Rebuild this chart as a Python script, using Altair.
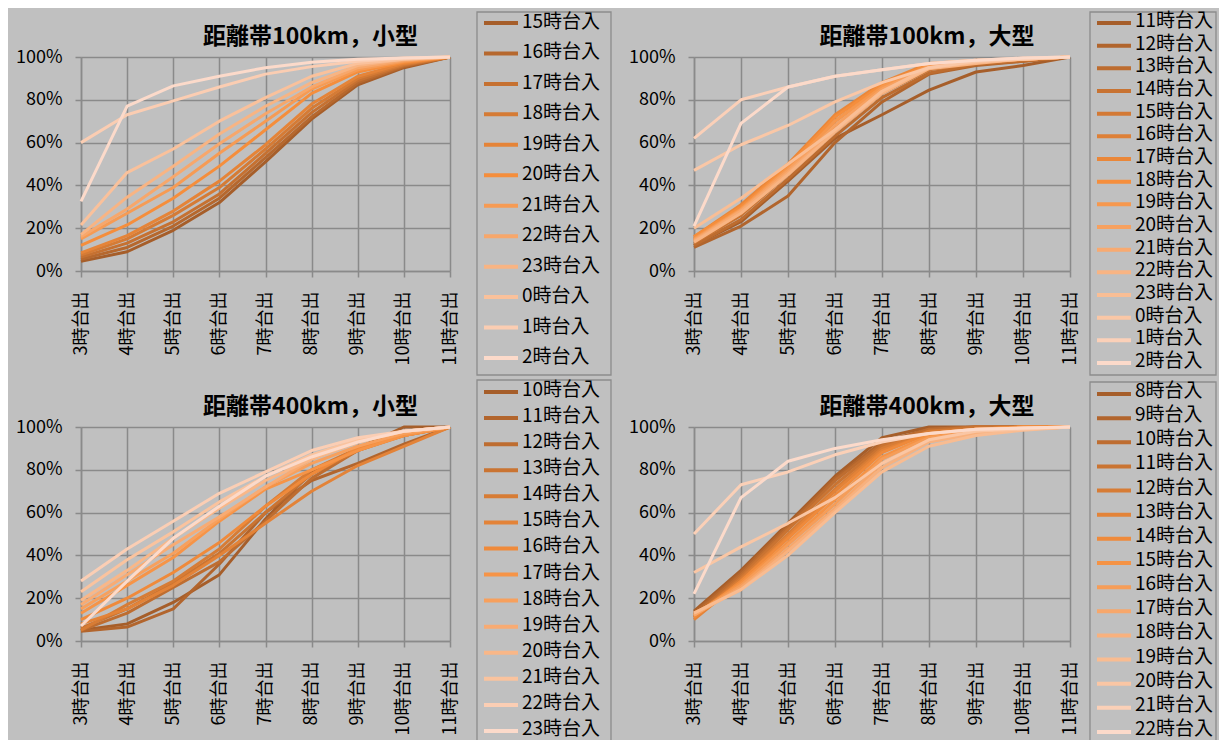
import altair as alt
import pandas as pd

# ---------------- data ----------------
deps = ["3時台出", "4時台出", "5時台出", "6時台出", "7時台出",
        "8時台出", "9時台出", "10時台出", "11時台出"]

titles = ["距離帯100km，小型", "距離帯100km，大型",
          "距離帯400km，小型", "距離帯400km，大型"]

a_series = ["15時台入", "16時台入", "17時台入", "18時台入", "19時台入", "20時台入",
            "21時台入", "22時台入", "23時台入", "0時台入", "1時台入", "2時台入"]
a_values = [
    [4.5, 9, 19, 32, 51, 71, 87, 95, 100],
    [5.5, 11, 21, 34, 53, 72, 88, 95.5, 100],
    [6.5, 13, 23, 36, 55, 74, 89, 96, 100],
    [7.5, 15, 26, 39, 57, 76, 90, 96.5, 100],
    [8.5, 16.5, 28, 42, 59, 78, 91, 97, 100],
    [12, 21.5, 34, 49, 66, 83, 93, 97.5, 100],
    [15, 27, 39, 55, 70, 85, 94, 98, 100],
    [16, 29, 44, 59.5, 73.5, 86, 95, 98.5, 100],
    [17, 34.5, 49, 64, 77, 88, 96, 99, 100],
    [21.5, 46, 57, 70, 81, 91, 97, 99, 100],
    [60, 73, 79.5, 86, 92, 95.5, 98, 99.5, 100],
    [32.5, 77, 86.5, 91, 95, 97.5, 99, 99.5, 100],
]

b_series = ["11時台入", "12時台入", "13時台入", "14時台入", "15時台入", "16時台入",
            "17時台入", "18時台入", "19時台入", "20時台入", "21時台入", "22時台入",
            "23時台入", "0時台入", "1時台入", "2時台入"]
b_values = [
    [12, 23, 42, 62, 73, 84.5, 93, 96, 100],
    [11, 21, 35, 60, 79, 92, 96, 98, 100],
    [12, 24, 43, 63, 81, 92.5, 96.5, 98, 100],
    [13, 26, 45, 65, 83, 94, 97, 98.5, 100],
    [14, 27, 46, 67, 84, 95, 97.5, 99, 100],
    [15, 29, 48, 70, 86, 96, 98, 99, 100],
    [16, 31, 50, 73, 88, 97, 98.5, 99, 100],
    [16, 30, 49, 72, 87, 96.5, 98, 99, 100],
    [15, 29, 48, 70, 86, 96, 98, 99, 100],
    [14.5, 28.5, 47, 68, 85, 95.5, 97.5, 99, 100],
    [14, 28, 46, 66, 84, 95, 97.5, 99, 100],
    [13.5, 27, 45, 65, 83, 94.5, 97, 99, 100],
    [20, 34, 50, 66, 84, 95, 97.5, 99, 100],
    [47, 59, 68, 79, 88, 95, 98, 99, 100],
    [62, 80, 86, 91, 94, 97, 98.5, 99.5, 100],
    [21, 69, 86, 91, 94, 97, 98.5, 99.5, 100],
]

c_series = ["10時台入", "11時台入", "12時台入", "13時台入", "14時台入", "15時台入",
            "16時台入", "17時台入", "18時台入", "19時台入", "20時台入", "21時台入",
            "22時台入", "23時台入"]
c_values = [
    [5, 8, 18, 31, 57, 79, 90, 100, 100],
    [4.5, 6.5, 15, 36, 60, 75, 83, 92, 100],
    [5, 13, 25, 37, 56, 76, 89, 97, 100],
    [6, 15, 27, 41, 60, 78, 89, 96, 100],
    [5, 17, 28, 43, 63, 80, 90, 96, 100],
    [8, 15, 26, 40, 55, 70, 82, 91, 100],
    [10, 20, 32, 46, 63, 78, 90, 96, 100],
    [13, 26, 39, 56, 71, 80, 89, 96, 100],
    [15, 28, 41, 57, 72, 83, 91, 97, 100],
    [17, 31, 45, 58, 72, 85, 93, 98, 100],
    [19, 33, 48, 62, 75, 85, 93, 98, 100],
    [23, 38, 51, 65, 77, 87, 94, 98, 100],
    [28, 43, 56, 69, 79, 89, 95, 98, 100],
    [7, 28, 48, 63, 77, 86, 93, 98, 100],
]

d_series = ["8時台入", "9時台入", "10時台入", "11時台入", "12時台入", "13時台入",
            "14時台入", "15時台入", "16時台入", "17時台入", "18時台入", "19時台入",
            "20時台入", "21時台入", "22時台入"]
d_values = [
    [14, 33, 55, 77, 95, 100, 100, 100, 100],
    [13, 32, 54, 76, 93, 99, 100, 100, 100],
    [12, 31, 53, 75, 92, 99, 100, 100, 100],
    [11, 30, 52, 73, 91, 98, 100, 100, 100],
    [11, 29, 50, 71, 90, 98, 99, 100, 100],
    [10, 28, 49, 70, 89, 97, 99, 100, 100],
    [11, 28, 48, 68, 88, 97, 99, 100, 100],
    [12, 27, 46, 66, 86, 96, 99, 100, 100],
    [12, 26, 45, 64, 85, 95, 98, 99, 100],
    [12, 25, 43, 62, 83, 94, 98, 99, 100],
    [13, 24, 42, 61, 81, 93, 97, 99, 100],
    [13, 24, 40, 60, 79, 91, 96, 98.5, 100],
    [32, 44, 55, 67, 83, 94, 98, 99, 100],
    [50, 73, 79, 87, 93, 97, 99, 99.5, 100],
    [22, 67, 84, 90, 94, 97, 99, 99.5, 100],
]

# ---------------- style ----------------
FONT = "Noto Sans CJK JP"
BG = "#c0c0c0"
GRID = "#8a8a8a"
FRAME = "#8c8c8c"
DARK, MID, LIGHT = "#a65e2a", "#f58e3c", "#fcdaca"


def _rgb(h):
    return [int(h[i:i + 2], 16) for i in (1, 3, 5)]


def ramp(n, peak):
    d, m, l = _rgb(DARK), _rgb(MID), _rgb(LIGHT)
    out = []
    for i in range(n):
        if i <= peak:
            t = i / peak
            a, b = d, m
        else:
            t = (i - peak) / (n - 1 - peak)
            a, b = m, l
        c = [round(a[k] + (b[k] - a[k]) * t) for k in range(3)]
        out.append("#%02x%02x%02x" % tuple(c))
    return out


def panel(key, title, series, values, width, peak, frame_y, frame_x2, sym_y, text_dy):
    sf = "s" + key
    rows = []
    for s, vals in zip(series, values):
        for i, (d, v) in enumerate(zip(deps, vals)):
            rows.append({sf: s, "dep": d, "i": i, "v": v / 100})
    df = pd.DataFrame(rows)
    colors = ramp(len(series), peak)
    color = alt.Color(sf + ":N", scale=alt.Scale(domain=series, range=colors), legend=None)

    lines = alt.Chart(df).mark_line(strokeWidth=3, strokeJoin="round").encode(
        x=alt.X("dep:N", sort=deps,
                scale=alt.Scale(type="point", padding=0),
                axis=alt.Axis(title=None, labelAngle=270, grid=True,
                              tickSize=6, labelPadding=14)),
        y=alt.Y("v:Q", scale=alt.Scale(domain=[0, 1]),
                axis=alt.Axis(title=None, format="%", values=[0, 0.2, 0.4, 0.6, 0.8, 1],
                              grid=True, tickSize=6, labelPadding=13)),
        color=color,
        order="i:Q",
    )

    ldf = pd.DataFrame({sf: series})
    leg_scale = alt.Scale(type="point", domain=series, range=sym_y, padding=0)
    rules = alt.Chart(ldf).mark_rule(strokeWidth=4).encode(
        x=alt.value(403), x2=alt.value(437),
        y=alt.Y(sf + ":N", scale=leg_scale, axis=None),
        color=color,
    )
    texts = alt.Chart(ldf).mark_text(
        align="left", baseline="middle", font=FONT, fontSize=19, color="#000000", dy=text_dy
    ).encode(
        x=alt.value(441),
        y=alt.Y(sf + ":N", scale=leg_scale, axis=None),
        text=sf + ":N",
    )
    frame = alt.Chart(pd.DataFrame({"k": [0]})).mark_rect(
        fillOpacity=0, stroke=FRAME, strokeWidth=1.3
    ).encode(
        x=alt.value(396), x2=alt.value(frame_x2),
        y=alt.value(frame_y[0]), y2=alt.value(frame_y[1]),
    )
    ttl = alt.Chart(pd.DataFrame({"t": [title]})).mark_text(
        font=FONT, fontSize=23, fontWeight="bold", color="#000000",
        align="center", baseline="middle"
    ).encode(x=alt.value(width / 2 + 45), y=alt.value(-20), text="t:N")

    return alt.layer(lines, frame, rules, texts, ttl).resolve_scale(
        y="independent"
    ).properties(width=width, height=214)


pA = panel("A", titles[0], a_series, a_values, 369, 5, (-45, 318), 530, [-34, 301], -1)
pB = panel("B", titles[1], b_series, b_values, 376, 7, (-45, 318), 522, [-34, 306], -2)
pC = panel("C", titles[2], c_series, c_values, 369, 6.5, (-47, 314), 530, [-35, 304], -2)
pD = panel("D", titles[3], d_series, d_values, 376, 6.5, (-45, 314), 522, [-33, 305], -3)

chart = alt.concat(
    pA, pB, pC, pD, columns=2, spacing={"row": 156, "column": 244}, bounds="flush"
).resolve_scale(
    color="independent"
).properties(
    padding={"left": 7, "top": 3, "right": 2, "bottom": 0},
    background=BG,
).configure_view(
    strokeWidth=0
).configure_axis(
    gridColor=GRID, gridWidth=1.5, domainColor=GRID, domainWidth=1.5,
    tickColor=GRID, tickWidth=1.5,
    labelFont=FONT, labelFontSize=18, labelColor="#000000",
)

chart.save("out.html", embed_options={"renderer": "svg", "actions": False})
